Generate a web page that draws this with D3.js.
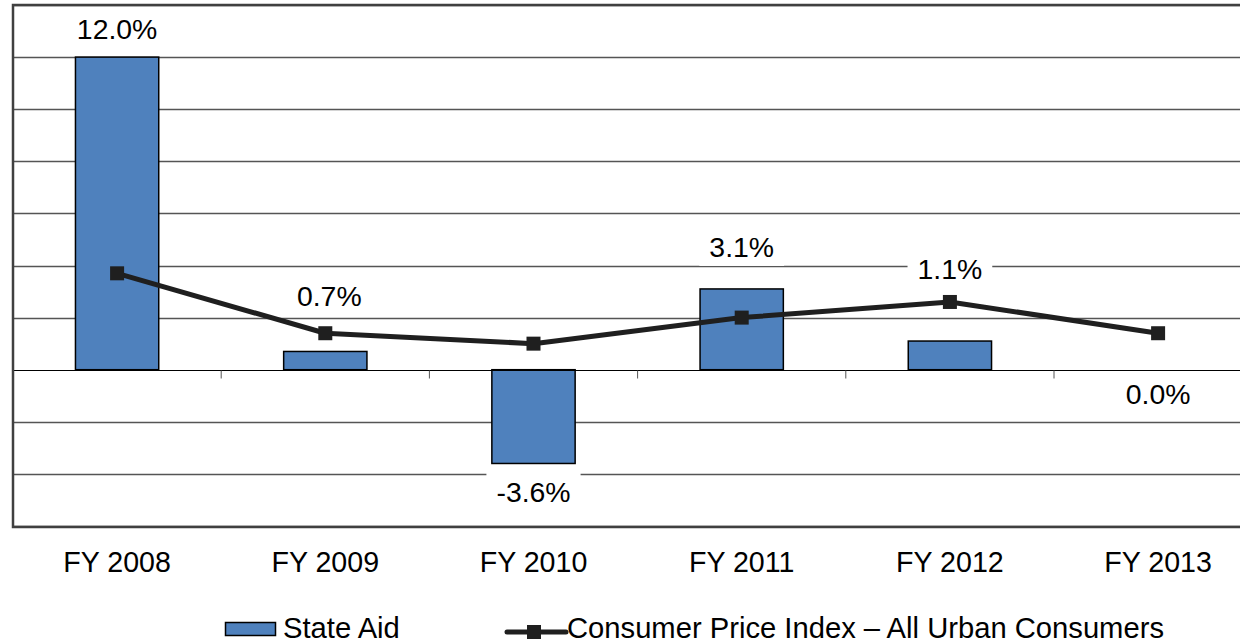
<!DOCTYPE html>
<html>
<head>
<meta charset="utf-8">
<script src="https://cdn.jsdelivr.net/npm/d3@7"></script>
<style>
  body { margin: 0; background: #fff; }
  svg { display: block; font-family: "Liberation Sans", Arial, sans-serif; }
</style>
</head>
<body>
<svg id="chart" width="1240" height="644"></svg>
<script>
// chart data
const years = ["FY 2008", "FY 2009", "FY 2010", "FY 2011", "FY 2012", "FY 2013"];
const stateAid = [12.0, 0.7, -3.6, 3.1, 1.1, 0.0];
const cpi = [3.7, 1.4, 1.0, 2.0, 2.6, 1.4];
const gridTicks = [-6, -4, -2, 0, 2, 4, 6, 8, 10, 12, 14];

// label offsets (px) from the bar end, labels were moved by hand in the original
const labelDy = [-18, -45, 39, -32, -62, 34];
const labelDx = [0, 4, 0, 0, 0, 0];

const svg = d3.select("#chart");
const plotLeft = 13, plotTop = 5, bandW = 208.2, plotBottom = 526;

const x = d3.scaleBand()
    .domain(years)
    .range([plotLeft, plotLeft + bandW * years.length])
    .paddingInner(0.6)
    .paddingOuter(0.3);

const xc = d => x(d) + x.bandwidth() / 2;

const y = d3.scaleLinear()
    .domain([-6, 14])
    .range([plotBottom, plotTop]);

// gridlines
svg.append("g")
    .selectAll("line")
    .data(gridTicks.filter(t => t !== 0))
    .enter().append("line")
    .attr("x1", plotLeft).attr("x2", 1240)
    .attr("y1", d => Math.round(y(d)) + 0.5)
    .attr("y2", d => Math.round(y(d)) + 0.5)
    .style("stroke", "#555")
    .style("stroke-width", "1.3px");

// bars
svg.append("g")
    .selectAll("rect")
    .data(stateAid)
    .enter().append("rect")
    .attr("x", (d, i) => x(years[i]))
    .attr("width", x.bandwidth())
    .attr("y", d => y(Math.max(0, d)))
    .attr("height", d => Math.abs(y(d) - y(0)))
    .style("fill", "#4F81BD")
    .style("stroke", "#000")
    .style("stroke-width", "1.5px");

// zero axis with category ticks
const zeroY = Math.round(y(0)) + 0.5;
svg.append("line")
    .attr("x1", plotLeft).attr("x2", 1240)
    .attr("y1", zeroY).attr("y2", zeroY)
    .style("stroke", "#000")
    .style("stroke-width", "1px");

svg.append("g")
    .selectAll("line")
    .data(years.slice(1))
    .enter().append("line")
    .attr("x1", d => x(d) - x.step() * x.paddingInner() / 2)
    .attr("x2", d => x(d) - x.step() * x.paddingInner() / 2)
    .attr("y1", zeroY).attr("y2", zeroY + 8)
    .style("stroke", "#555")
    .style("stroke-width", "1px");

// frame (right side runs off the picture)
svg.append("path")
    .attr("d", `M1240,${plotTop} H${plotLeft} V${plotBottom + 1} H1240`)
    .style("fill", "none")
    .style("stroke", "#404040")
    .style("stroke-width", "2.5px");

// CPI line
const line = d3.line()
    .x((d, i) => xc(years[i]))
    .y(d => y(d));

svg.append("path")
    .datum(cpi)
    .attr("d", line)
    .style("fill", "none")
    .style("stroke", "#1f1f1f")
    .style("stroke-width", "5px")
    .style("stroke-linejoin", "round");

svg.append("g")
    .selectAll("rect")
    .data(cpi)
    .enter().append("rect")
    .attr("x", (d, i) => xc(years[i]) - 7)
    .attr("y", d => y(d) - 7)
    .attr("width", 14).attr("height", 14)
    .style("fill", "#1f1f1f");

// data labels with white boxes
const labels = svg.append("g")
    .selectAll("g")
    .data(stateAid)
    .enter().append("g")
    .attr("transform", (d, i) => `translate(${xc(years[i]) + labelDx[i]},${y(d) + labelDy[i]})`);

labels.append("text")
    .attr("text-anchor", "middle")
    .style("font-size", "28.4px")
    .style("fill", "#000")
    .text(d => d.toFixed(1) + "%");

labels.each(function() {
    const g = d3.select(this);
    const bb = g.select("text").node().getBBox();
    g.insert("rect", "text")
        .attr("x", bb.x - 10)
        .attr("y", -32)
        .attr("width", bb.width + 20)
        .attr("height", 41)
        .style("fill", "#fff");
});

// category labels
svg.append("g")
    .selectAll("text")
    .data(years)
    .enter().append("text")
    .attr("x", d => xc(d))
    .attr("y", 572)
    .attr("text-anchor", "middle")
    .style("font-size", "28.6px")
    .style("fill", "#000")
    .text(d => d);

// legend
const legend = svg.append("g").style("font-size", "29.2px");
legend.append("rect")
    .attr("x", 225.5).attr("y", 622.5)
    .attr("width", 50).attr("height", 13)
    .style("fill", "#4F81BD")
    .style("stroke", "#000")
    .style("stroke-width", "1.5px");
legend.append("text")
    .attr("x", 283).attr("y", 638)
    .text("State Aid");

legend.append("line")
    .attr("x1", 507).attr("x2", 566)
    .attr("y1", 632).attr("y2", 632)
    .style("stroke", "#1f1f1f")
    .style("stroke-width", "5px")
    .style("stroke-linecap", "round");
legend.append("rect")
    .attr("x", 527).attr("y", 625)
    .attr("width", 14).attr("height", 14)
    .style("fill", "#1f1f1f");
legend.append("text")
    .attr("x", 567).attr("y", 638)
    .text("Consumer Price Index – All Urban Consumers");
</script>
</body>
</html>
